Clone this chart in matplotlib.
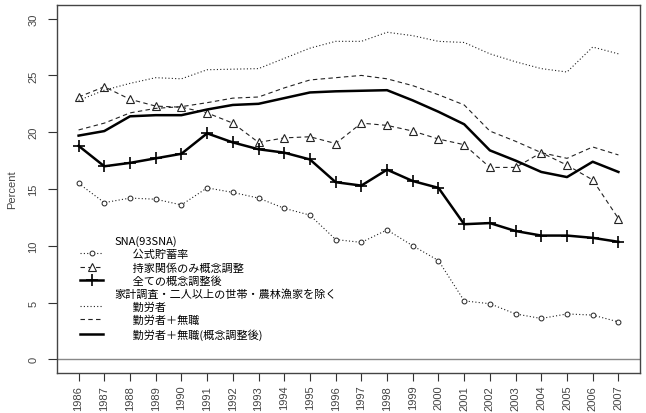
import matplotlib
matplotlib.use('Agg')
import matplotlib.pyplot as plt
from matplotlib.lines import Line2D
import numpy as np

years = np.arange(1986, 2008)

# SNA(93SNA)
sna_official = [15.5, 13.8, 14.2, 14.1, 13.6, 15.1, 14.7, 14.2, 13.3, 12.7, 10.55,
                10.3, 11.4, 10.0, 8.7, 5.15, 4.9, 4.0, 3.6, 4.0, 3.9, 3.3]
sna_housing = [23.1, 24.0, 22.9, 22.3, 22.2, 21.7, 20.8, 19.1, 19.5, 19.6, 19.0,
               20.8, 20.6, 20.1, 19.4, 18.9, 16.9, 16.9, 18.2, 17.1, 15.8, 12.4]
sna_all = [18.8, 17.0, 17.3, 17.7, 18.1, 19.9, 19.1, 18.5, 18.2, 17.6, 15.6,
           15.3, 16.7, 15.7, 15.1, 11.9, 12.0, 11.3, 10.9, 10.9, 10.7, 10.35]

# 家計調査
fies_workers = [22.8, 23.7, 24.3, 24.8, 24.7, 25.5, 25.55, 25.6, 26.5, 27.4, 28.0,
                28.0, 28.8, 28.5, 28.0, 27.9, 26.9, 26.2, 25.6, 25.3, 27.5, 26.9]
fies_workers_nojob = [20.2, 20.8, 21.7, 22.1, 22.25, 22.6, 23.0, 23.1, 23.9, 24.6, 24.8,
                      25.0, 24.7, 24.1, 23.3, 22.4, 20.1, 19.2, 18.2, 17.7, 18.7, 18.0]
fies_adjusted = [19.7, 20.1, 21.4, 21.5, 21.5, 22.0, 22.4, 22.5, 23.0, 23.5, 23.6,
                 23.65, 23.7, 22.8, 21.8, 20.7, 18.4, 17.5, 16.5, 16.05, 17.4, 16.5]

labels = ['SNA(93SNA)', '公式貯蓄率', '持家関係のみ概念調整', '全ての概念調整後',
          '家計調査・二人以上の世帯・農林漁家を除く', '勤労者', '勤労者＋無職', '勤労者＋無職(概念調整後)']

jp = ['Noto Sans CJK JP', 'DejaVu Sans']
plt.rcParams['font.family'] = ['Liberation Sans', 'DejaVu Sans']

fig = plt.figure(figsize=(6.46, 4.14), dpi=100)
ax = fig.add_axes([57 / 646, 40 / 414, 583 / 646, 368 / 414])

ax.axhline(0, color='#888888', lw=1)

thin = 0.8
dot = (0, (1, 2))
dash = (0, (4, 3))
l1, = ax.plot(years, sna_official, color='#222222', lw=thin, ls=dot,
              marker='o', ms=3.5, mfc='white', mew=0.7)
l2, = ax.plot(years, sna_housing, color='#222222', lw=thin, ls=dash,
              marker='^', ms=6, mfc='white', mew=0.8)
l3, = ax.plot(years, sna_all, color='black', lw=1.8, ls='-',
              marker='+', ms=8, mew=1.2)
l4, = ax.plot(years, fies_workers, color='#222222', lw=thin, ls=dot)
l5, = ax.plot(years, fies_workers_nojob, color='#222222', lw=thin, ls=dash)
l6, = ax.plot(years, fies_adjusted, color='black', lw=1.8, ls='-')

ax.set_xlim(1985.16, 2007.84)
ax.set_ylim(-1.2, 31.2)
ax.set_xticks(years)
ax.set_xticklabels([str(y) for y in years], rotation=90, fontsize=8, color='#444444')
ax.set_yticks(np.arange(0, 31, 5))
ax.set_yticklabels([str(v) for v in range(0, 31, 5)], rotation=90, va='center',
                   fontsize=8, color='#444444')
ax.tick_params(axis='x', length=6, width=0.8, color='#333333', pad=2.5)
ax.tick_params(axis='y', length=6.5, width=0.8, color='#333333', pad=7)
ax.set_ylabel('Percent', fontsize=8, color='#444444', labelpad=8)
for s in ax.spines.values():
    s.set_color('#444444')
    s.set_linewidth(1)

blank = Line2D([], [], linestyle='none')
ind = '\u3000   '
handles = [blank, l1, l2, l3, blank, l4, l5, l6]
leg_labels = [labels[0], ind + labels[1], ind + labels[2], ind + labels[3],
              labels[4], ind + labels[5], ind + labels[6], ind + labels[7]]
leg = ax.legend(handles, leg_labels, loc='upper left', bbox_to_anchor=(0.0395, 0.374),
                frameon=False, borderaxespad=0, borderpad=0, numpoints=1,
                handlelength=2.1, handletextpad=1.0, labelspacing=0.24,
                prop={'family': jp, 'size': 8})

fig.savefig('out.png', dpi=100)
